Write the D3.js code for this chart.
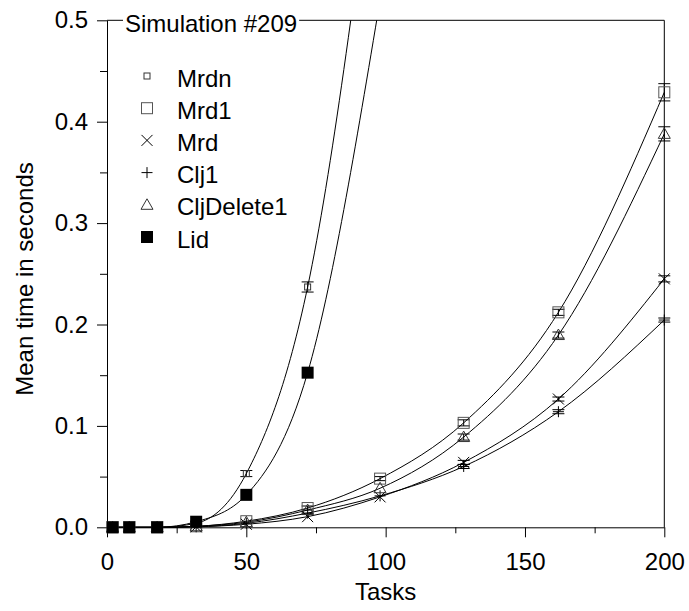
<!DOCTYPE html>
<html><head><meta charset="utf-8">
<script src="https://cdn.jsdelivr.net/npm/d3@7"></script>
<style>body{margin:0;background:#fff}</style>
</head><body>
<svg id="c" width="689" height="611"></svg>
<script>
// ---- data ----
const tasks = [2, 8, 18, 32, 50, 72, 98, 128, 162, 200];
const seriesNames = ["Mrdn", "Mrd1", "Mrd", "Clj1", "CljDelete1", "Lid"];
const mrdn       = [0, 0, 0, 0.004, 0.053, 0.237, 0.72];
const mrd1       = [0, 0, 0, 0.001, 0.006, 0.019, 0.048, 0.103, 0.212, 0.429];
const mrd        = [0, 0, 0, 0.0005, 0.003, 0.0105, 0.030, 0.064, 0.1265, 0.245];
const clj1       = [0, 0, 0, 0.0005, 0.004, 0.014, 0.031, 0.060, 0.114, 0.2044];
const cljDelete1 = [0, 0, 0, 0.001, 0.005, 0.017, 0.0385, 0.089, 0.1896, 0.388];
const lid        = [0, 0, 0, 0.0055, 0.032, 0.1525, 0.52];
const mrdnErr       = [0, 0, 0, 0, 0.003, 0.005, 0.01];
const mrd1Err       = [0, 0, 0, 0, 0, 0.002, 0.002, 0.003, 0.003, 0.0085];
const mrdErr        = [0, 0, 0, 0, 0, 0, 0, 0.002, 0.002, 0.003];
const clj1Err       = [0, 0, 0, 0, 0, 0, 0, 0.002, 0.002, 0.002];
const cljDelete1Err = [0, 0, 0, 0, 0, 0, 0, 0.003, 0.003, 0.007];
const lidErr        = [0, 0, 0, 0, 0, 0, 0, 0, 0, 0];
const xTicks = [0, 50, 100, 150, 200];
const xMinor = [25, 75, 125, 175];
const yTicks = [0, 0.1, 0.2, 0.3, 0.4, 0.5];
const yTickLabels = ["0.0", "0.1", "0.2", "0.3", "0.4", "0.5"];
const yMinor = [0.05, 0.15, 0.25, 0.35, 0.45];
const title = "Simulation #209";
const xTitle = "Tasks";
const yTitle = "Mean time in seconds";

const values = [mrdn, mrd1, mrd, clj1, cljDelete1, lid];
const errs = [mrdnErr, mrd1Err, mrdErr, clj1Err, cljDelete1Err, lidErr];
const markerTypes = ["smallsquare", "square", "x", "plus", "triangle", "filled"];

// ---- layout ----
const L = 107, R = 664.3, T = 20.3, B = 527.3;
const FONT = "'Liberation Sans', Arial, sans-serif";
const FS = 24;
const svg = d3.select("#c").style("font-family", FONT);
const x = d3.scaleLinear().domain([0, 200]).range([L, R]);
const y = d3.scaleLinear().domain([0, 0.5]).range([B, T]);

svg.append("defs").append("clipPath").attr("id", "clip")
  .append("rect").attr("x", 0).attr("y", T).attr("width", 689).attr("height", 611 - T);

// axes
const yAxis = d3.axisLeft(y).tickValues(yTicks).tickFormat((d, i) => yTickLabels[i])
  .tickSize(10).tickSizeOuter(0).tickPadding(9);
const gy = svg.append("g").attr("transform", `translate(${L},0)`).call(yAxis);
gy.selectAll("text").style("font-size", FS + "px").style("font-family", FONT).attr("fill", "#000");
gy.select(".domain").attr("stroke", "#000");
svg.append("g").attr("transform", `translate(${L},0)`)
  .call(d3.axisLeft(y).tickValues(yMinor).tickSize(7).tickFormat(""))
  .call(g => g.select(".domain").remove());

const xAxis = d3.axisBottom(x).tickValues(xTicks).tickSize(10).tickSizeOuter(0).tickPadding(16);
const gx = svg.append("g").attr("transform", `translate(0,${B})`).call(xAxis);
gx.selectAll("text").style("font-size", FS + "px").style("font-family", FONT).attr("fill", "#000");
svg.append("g").attr("transform", `translate(0,${B})`)
  .call(d3.axisBottom(x).tickValues(xMinor).tickSize(6).tickFormat(""))
  .call(g => g.select(".domain").remove());

// right border
svg.append("line").attr("x1", R).attr("x2", R).attr("y1", T).attr("y2", B).attr("stroke", "#000");

// title and top border
const tt = svg.append("text").attr("x", 125).attr("y", T + 11.5).text(title)
  .style("font-size", FS + "px").attr("fill", "#000");
const bb = tt.node().getBBox();
svg.append("line").attr("x1", L).attr("x2", bb.x - 2).attr("y1", T).attr("y2", T).attr("stroke", "#000");
svg.append("line").attr("x1", bb.x + bb.width + 2).attr("x2", R).attr("y1", T).attr("y2", T).attr("stroke", "#000");

// axis titles
svg.append("text").attr("x", (L + R) / 2).attr("y", 600).attr("text-anchor", "middle")
  .style("font-size", FS + "px").text(xTitle);
svg.append("text").attr("transform", `translate(33,279) rotate(-90)`)
  .attr("text-anchor", "middle").style("font-size", FS + "px").text(yTitle);

// marker drawing
function marker(g, type, cx, cy) {
  const s = 5.5;
  if (type === "smallsquare") {
    g.append("rect").attr("x", cx - 3).attr("y", cy - 3).attr("width", 6).attr("height", 6)
      .attr("fill", "none").attr("stroke", "#333");
  } else if (type === "square") {
    g.append("rect").attr("x", cx - s).attr("y", cy - s).attr("width", 2 * s).attr("height", 2 * s)
      .attr("fill", "none").attr("stroke", "#555");
  } else if (type === "filled") {
    g.append("rect").attr("x", cx - 6).attr("y", cy - 6).attr("width", 12).attr("height", 12)
      .attr("fill", "#000");
  } else if (type === "x") {
    g.append("path").attr("d", `M${cx - s},${cy - s}L${cx + s},${cy + s}M${cx - s},${cy + s}L${cx + s},${cy - s}`)
      .attr("stroke", "#000").attr("fill", "none");
  } else if (type === "plus") {
    g.append("path").attr("d", `M${cx - s},${cy}L${cx + s},${cy}M${cx},${cy - s}L${cx},${cy + s}`)
      .attr("stroke", "#000").attr("fill", "none");
  } else if (type === "triangle") {
    g.append("path").attr("d", `M${cx},${cy - 6}L${cx + 6},${cy + 4.5}L${cx - 6},${cy + 4.5}Z`)
      .attr("stroke", "#333").attr("fill", "none");
  }
}

// curves
const plot = svg.append("g").attr("clip-path", "url(#clip)");
const line = d3.line().x(d => x(d[0])).y(d => y(d[1])).curve(d3.curveMonotoneX);
values.forEach((vals, si) => {
  const pts = vals.map((v, i) => [tasks[i], v]);
  plot.append("path").attr("d", line(pts)).attr("fill", "none").attr("stroke", "#000").attr("stroke-width", 1);
});
// error bars
values.forEach((vals, si) => {
  const g = plot.append("g");
  vals.forEach((v, i) => {
    const e = errs[si][i];
    const cx = x(tasks[i]);
    if (e > 0) {
      const y1 = y(v + e), y2 = y(v - e);
      g.append("path").attr("d", `M${cx},${y1}L${cx},${y2}M${cx - 6},${y1}L${cx + 6},${y1}M${cx - 6},${y2}L${cx + 6},${y2}`)
        .attr("stroke", "#000").attr("fill", "none");
    }
  });
});
// markers
values.forEach((vals, si) => {
  const g = plot.append("g");
  vals.forEach((v, i) => marker(g, markerTypes[si], x(tasks[i]), y(v)));
});

// legend
const legend = svg.append("g");
seriesNames.forEach((name, i) => {
  const cy = 76 + i * 32.2;
  marker(legend, markerTypes[i], 147, cy);
  legend.append("text").attr("x", 177).attr("y", cy + 10.5).style("font-size", FS + "px").text(name);
});
</script>
</body></html>
